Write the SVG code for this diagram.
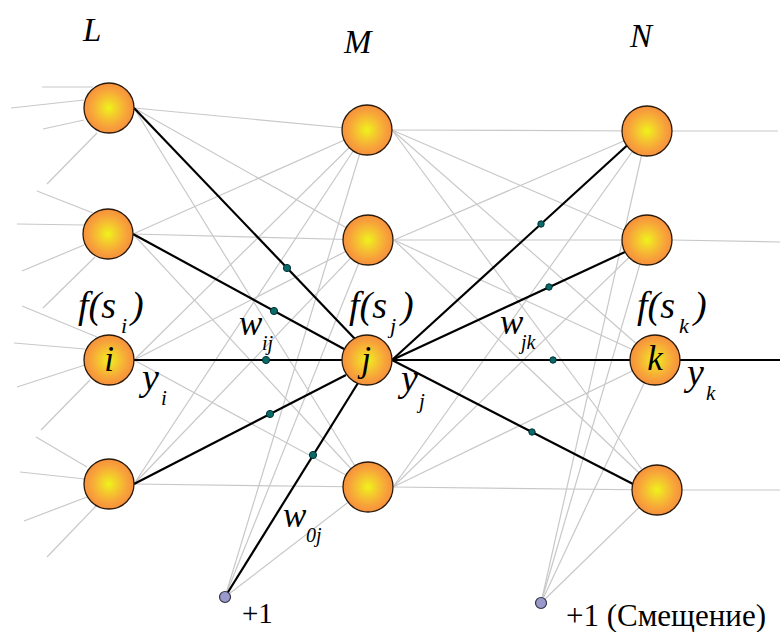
<svg xmlns="http://www.w3.org/2000/svg" width="780" height="632" viewBox="0 0 780 632">
<defs>
<radialGradient id="ball" cx="50%" cy="50%" r="50%">
<stop offset="0%" stop-color="#eef31a"/>
<stop offset="40%" stop-color="#f5c530"/>
<stop offset="75%" stop-color="#f7a23a"/>
<stop offset="100%" stop-color="#f6903c"/>
</radialGradient>
<style>
.g{stroke:#c8c8c8;stroke-width:1.2;fill:none}
.b{stroke:#000;stroke-width:2.2;fill:none}
.n{fill:url(#ball);stroke:#2a1a0a;stroke-width:1.3}
.d{fill:#0a6a68;stroke:#003030;stroke-width:1}
.bias{fill:#9999cc;stroke:#333344;stroke-width:1.2}
.t{font-family:"Liberation Serif","Times New Roman",serif;font-style:italic;fill:#000}
.r{font-family:"Liberation Serif","Times New Roman",serif;fill:#000}
</style>
</defs>
<rect width="780" height="632" fill="#fff"/>
<g id="connectors">
<g id="inputs">
<line class="g" x1="42" y1="87" x2="93" y2="87"/>
<line class="g" x1="11" y1="108" x2="84" y2="100"/>
<line class="g" x1="43" y1="129" x2="84" y2="120"/>
<line class="g" x1="47" y1="184" x2="97" y2="133"/>
<line class="g" x1="37" y1="191" x2="93" y2="213"/>
<line class="g" x1="17" y1="224" x2="84" y2="225"/>
<line class="g" x1="22" y1="271" x2="84" y2="245"/>
<line class="g" x1="43" y1="308" x2="95" y2="257"/>
<line class="g" x1="22" y1="306" x2="97" y2="337"/>
<line class="g" x1="14" y1="343" x2="85" y2="349"/>
<line class="g" x1="17" y1="387" x2="85" y2="365"/>
<line class="g" x1="41" y1="430" x2="90" y2="380"/>
<line class="g" x1="36" y1="437" x2="87" y2="467"/>
<line class="g" x1="20" y1="472" x2="85" y2="479"/>
<line class="g" x1="24" y1="521" x2="87" y2="497"/>
<line class="g" x1="47" y1="557" x2="97" y2="505"/>
</g>
<g id="hidden1">
<line class="g" x1="134" y1="108" x2="367" y2="130"/>
<line class="g" x1="134" y1="108" x2="368" y2="240"/>
<line class="g" x1="134" y1="108" x2="368" y2="487"/>
<line class="g" x1="133" y1="234" x2="367" y2="130"/>
<line class="g" x1="133" y1="234" x2="368" y2="240"/>
<line class="g" x1="133" y1="234" x2="368" y2="487"/>
<line class="g" x1="134" y1="360" x2="367" y2="130"/>
<line class="g" x1="134" y1="360" x2="368" y2="240"/>
<line class="g" x1="134" y1="360" x2="368" y2="487"/>
<line class="g" x1="134" y1="484" x2="367" y2="130"/>
<line class="g" x1="134" y1="484" x2="368" y2="240"/>
<line class="g" x1="134" y1="484" x2="368" y2="487"/>
<line class="g" x1="225" y1="597" x2="367" y2="130"/>
<line class="g" x1="225" y1="597" x2="368" y2="240"/>
<line class="g" x1="225" y1="597" x2="368" y2="487"/>
</g>
<g id="hidden2">
<line class="g" x1="392" y1="130" x2="647" y2="131"/>
<line class="g" x1="392" y1="130" x2="647" y2="240"/>
<line class="g" x1="392" y1="130" x2="655" y2="360"/>
<line class="g" x1="392" y1="130" x2="657" y2="490"/>
<line class="g" x1="394" y1="240" x2="647" y2="131"/>
<line class="g" x1="394" y1="240" x2="647" y2="240"/>
<line class="g" x1="394" y1="240" x2="655" y2="360"/>
<line class="g" x1="394" y1="240" x2="657" y2="490"/>
<line class="g" x1="393" y1="487" x2="647" y2="131"/>
<line class="g" x1="393" y1="487" x2="647" y2="240"/>
<line class="g" x1="393" y1="487" x2="655" y2="360"/>
<line class="g" x1="393" y1="487" x2="657" y2="490"/>
<line class="g" x1="541" y1="603" x2="647" y2="131"/>
<line class="g" x1="541" y1="603" x2="647" y2="240"/>
<line class="g" x1="541" y1="603" x2="655" y2="360"/>
<line class="g" x1="541" y1="603" x2="657" y2="490"/>
</g>
<g id="outputs">
<line class="g" x1="672" y1="131" x2="778" y2="131"/>
<line class="g" x1="672" y1="240" x2="780" y2="242"/>
<line class="g" x1="682" y1="490" x2="780" y2="490"/>
</g>
<g id="highlighted">
<line class="b" x1="134" y1="108" x2="355" y2="339"/>
<line class="b" x1="133" y1="234" x2="344" y2="349"/>
<line class="b" x1="134" y1="360" x2="342" y2="360"/>
<line class="b" x1="134" y1="484" x2="346" y2="375"/>
<line class="b" x1="225" y1="597" x2="358" y2="383"/>
<line class="b" x1="392" y1="360" x2="627" y2="145.5"/>
<line class="b" x1="392" y1="360" x2="625" y2="252"/>
<line class="b" x1="392" y1="360" x2="630" y2="360"/>
<line class="b" x1="392" y1="360" x2="633" y2="484"/>
<line class="b" x1="680" y1="360" x2="780" y2="360"/>
</g>
<g id="weights">
<circle class="d" cx="287" cy="268" r="3.6"/>
<circle class="d" cx="274" cy="311" r="3.6"/>
<circle class="d" cx="266" cy="360" r="3.6"/>
<circle class="d" cx="270" cy="414" r="3.6"/>
<circle class="d" cx="313" cy="455" r="3.6"/>
<circle class="d" cx="541" cy="224" r="3.2"/>
<circle class="d" cx="549" cy="287" r="3.2"/>
<circle class="d" cx="553" cy="360" r="3.2"/>
<circle class="d" cx="532" cy="432" r="3.2"/>
</g>
</g>
<g id="L1"><circle class="n" cx="109" cy="108" r="25"/></g>
<g id="L2"><circle class="n" cx="108" cy="234" r="25"/></g>
<g id="Li"><circle class="n" cx="109" cy="360" r="25"/><text class="t" x="109" y="371" font-size="35" text-anchor="middle">i</text></g>
<g id="L4"><circle class="n" cx="109" cy="484" r="25"/></g>
<g id="M1"><circle class="n" cx="367" cy="130" r="25"/></g>
<g id="M2"><circle class="n" cx="368" cy="240" r="25"/></g>
<g id="Mj"><circle class="n" cx="367" cy="360" r="25"/><text class="t" x="366" y="371" font-size="35" text-anchor="middle">j</text></g>
<g id="M4"><circle class="n" cx="368" cy="487" r="25"/></g>
<g id="N1"><circle class="n" cx="647" cy="131" r="25"/></g>
<g id="N2"><circle class="n" cx="647" cy="240" r="25"/></g>
<g id="Nk"><circle class="n" cx="655" cy="360" r="25"/><text class="t" x="655" y="370" font-size="35" text-anchor="middle">k</text></g>
<g id="N4"><circle class="n" cx="657" cy="490" r="25"/></g>
<g id="B1"><circle class="bias" cx="225" cy="597" r="5.5"/><text class="r" x="242" y="623" font-size="29">+1</text></g>
<g id="B2"><circle class="bias" cx="541" cy="603" r="5.5"/><text class="r" x="566" y="626" font-size="31">+1 (Смещение)</text></g>
<g id="labels">
<text class="t" x="83" y="41" font-size="33">L</text>
<text class="t" x="344" y="53" font-size="33">M</text>
<text class="t" x="630" y="47" font-size="33">N</text>
<text class="t" x="78" y="318" font-size="38">f(s</text>
<text class="t" x="121" y="333" font-size="22">i</text>
<text class="t" x="131" y="318" font-size="38">)</text>
<text class="t" x="349" y="318" font-size="38">f(s</text>
<text class="t" x="390" y="333" font-size="22">j</text>
<text class="t" x="401" y="318" font-size="38">)</text>
<text class="t" x="637" y="318" font-size="38">f(s</text>
<text class="t" x="679" y="333" font-size="22">k</text>
<text class="t" x="694" y="318" font-size="38">)</text>
<text class="t" x="142" y="390" font-size="38">y</text>
<text class="t" x="161" y="405" font-size="21">i</text>
<text class="t" x="401" y="391" font-size="38">y</text>
<text class="t" x="419" y="408" font-size="21">j</text>
<text class="t" x="687" y="385" font-size="38">y</text>
<text class="t" x="706" y="400" font-size="21">k</text>
<text class="t" x="239" y="335" font-size="35">w</text>
<text class="t" x="262" y="350" font-size="20">ij</text>
<text class="t" x="500" y="334" font-size="35">w</text>
<text class="t" x="521" y="349" font-size="20">jk</text>
<text class="t" x="283" y="527" font-size="35">w</text>
<text class="t" x="306" y="542" font-size="20">0j</text>
</g>
</svg>
